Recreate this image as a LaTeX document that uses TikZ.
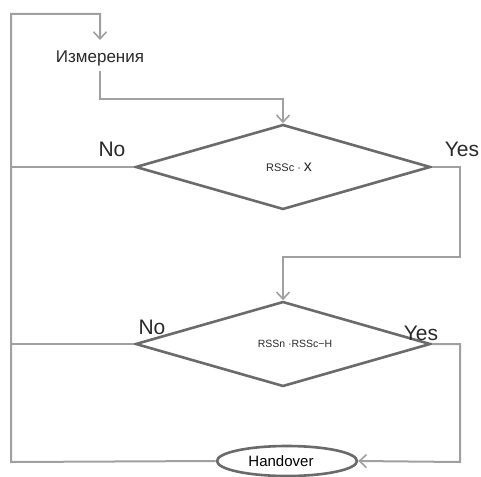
\documentclass[tikz,border=0pt]{standalone}
\usepackage{fontspec}
\setmainfont{Liberation Sans}
\usetikzlibrary{shapes.geometric,arrows.meta}
\definecolor{linegray}{HTML}{A0A0A0}
\definecolor{shapegray}{HTML}{6A6A6A}
\definecolor{txt}{HTML}{2A2A2A}
\tikzset{
  conn/.style={draw=linegray,line width=2pt},
  arr/.style={conn,-{Straight Barb[length=7pt,width=13pt,line width=1.6pt]}},
  decision/.style={diamond,draw=shapegray,line width=2.6pt,inner sep=0pt,
    minimum width=295pt,minimum height=85pt,text=txt},
  term/.style={ellipse,draw=shapegray,line width=2.6pt,inner sep=0pt,
    minimum width=140pt,minimum height=30pt,text=black},
  plain/.style={inner sep=0pt,text=txt},
  branch/.style={inner sep=0pt,text=txt,font=\fontsize{21}{24}\selectfont},
}
\begin{document}
\begin{tikzpicture}[x=1pt,y=-1pt]
\useasboundingbox (0,0) rectangle (481,476);
\fill[white] (0,0) rectangle (481,476);
% nodes
\node[plain,font=\fontsize{17}{19}\selectfont] (meas) at (100,58) {Измерения};
\node[decision] (d1) at (283,167) {};
\node[plain] (t1) at (289,167) {{\fontsize{11}{12}\selectfont RSSc ·} {\fontsize{16}{18}\selectfont x}};
\node[decision] (d2) at (283,344) {};
\node[plain,font=\fontsize{10.5}{12}\selectfont] (t2) at (295,344) {RSSn ·RSSc−H};
\node[term] (ho) at (287,461) {};
\node[plain,text=black,font=\fontsize{15}{17}\selectfont] (hot) at (281,461) {Handover};
% labels
\node[branch] (no1) at (112,149) {No};
\node[branch] (yes1) at (462,149) {Yes};
\node[branch] (no2) at (152,327) {No};
\node[branch] (yes2) at (421,333) {Yes};
% helper coordinates
\coordinate (ctl) at (11,14);
\coordinate (ctr) at (100,14);
\coordinate (mtop) at (100,40);
\coordinate (mbot) at (100,71);
\coordinate (cbl) at (11,462);
\coordinate (m1) at (100,99);
\coordinate (m2) at (283,99);
\coordinate (y1a) at (460,167);
\coordinate (y1b) at (460,257);
\coordinate (y1c) at (283,257);
\coordinate (y2a) at (460,344);
\coordinate (y2b) at (460,462);
\coordinate (n1) at (11,167);
\coordinate (n2) at (11,344);
% connectors
\draw[arr] (ho.west) -- (cbl) -- (ctl) -- (ctr) -- (mtop);
\draw[arr] (mbot) -- (m1) -- (m2) -- (d1.north);
\draw[arr] (d1.east) -- (y1a) -- (y1b) -- (y1c) -- (d2.north);
\draw[arr] (d2.east) -- (y2a) -- (y2b) -- (ho.east);
\draw[conn] (d1.west) -- (n1);
\draw[conn] (d2.west) -- (n2);
\end{tikzpicture}
\end{document}
